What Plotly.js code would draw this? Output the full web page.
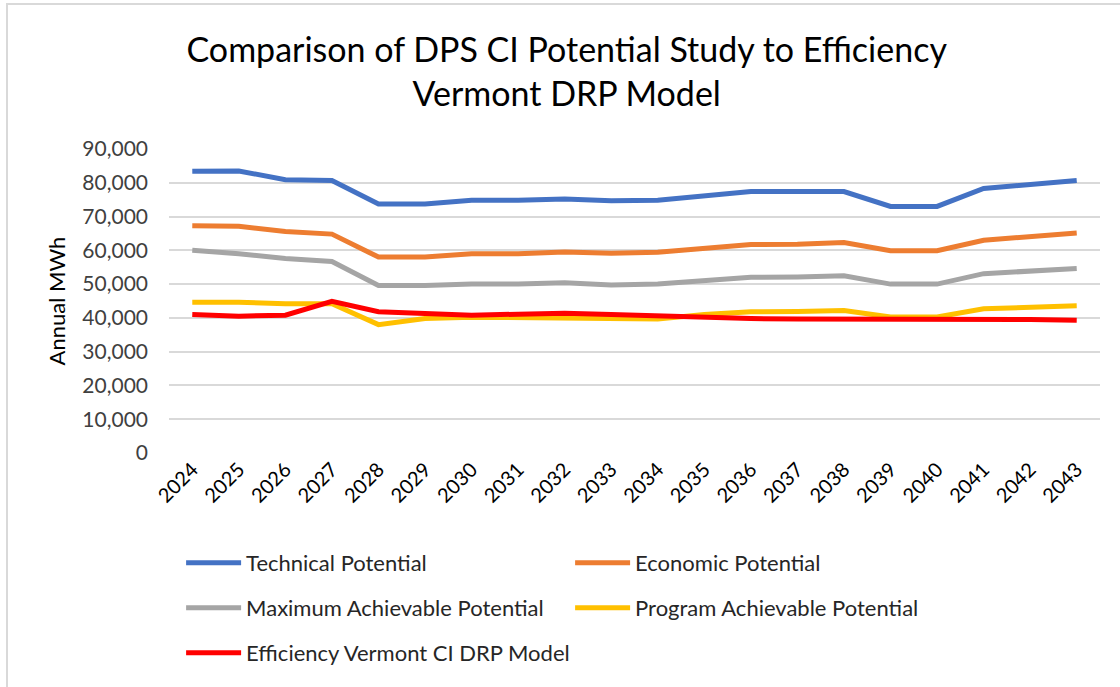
<!DOCTYPE html>
<html>
<head>
<meta charset="utf-8">
<script src="https://cdn.plot.ly/plotly-3.0.1.min.js"></script>
<style>
  html, body { margin: 0; padding: 0; background: #fff; }
  #frame { position: absolute; left: 6px; top: 3px; width: 1120px; height: 690px;
           border-top: 2px solid #d9d9d9; border-left: 2px solid #d9d9d9; box-sizing: border-box; }
  #chart { position: absolute; left: 0; top: 0; width: 1120px; height: 687px; }
</style>
</head>
<body>
<div id="frame"></div>
<div id="chart"></div>
<script>
const years = ["2024","2025","2026","2027","2028","2029","2030","2031","2032","2033",
               "2034","2035","2036","2037","2038","2039","2040","2041","2042","2043"];

const technical = [83400, 83500, 80900, 80700, 73700, 73700, 74800, 74800, 75200, 74700,
                   74800, 76000, 77400, 77400, 77400, 73000, 73000, 78300, 79600, 80700];
const economic  = [67300, 67100, 65600, 64800, 58000, 58000, 59000, 59000, 59500, 59100,
                   59400, 60700, 61700, 61800, 62300, 59900, 59900, 63000, 64000, 65100];
const maxAchievable = [60000, 59000, 57600, 56700, 49600, 49600, 50000, 50000, 50400, 49700,
                       50000, 51000, 52000, 52100, 52500, 50000, 50000, 53100, 53800, 54600];
const programAchievable = [44600, 44600, 44200, 44200, 38000, 39800, 40200, 40000, 40000, 39600,
                           39700, 41000, 41800, 41900, 42200, 40300, 40300, 42700, 43100, 43600];
const evtModel = [41000, 40500, 40800, 44900, 41800, 41300, 40800, 41100, 41400, 41000,
                  40500, 40000, 39800, 39700, 39700, 39700, 39700, 39700, 39500, 39300];

const names = ["Technical Potential", "Economic Potential", "Maximum Achievable Potential",
               "Program Achievable Potential", "Efficiency Vermont CI DRP Model"];
const series = [technical, economic, maxAchievable, programAchievable, evtModel];
const colors = ["#4472C4", "#ED7D31", "#A5A5A5", "#FFC000", "#FF0000"];
const legendIds = ["legend", "legend", "legend2", "legend2", "legend3"];
const yTicks = [0, 10000, 20000, 30000, 40000, 50000, 60000, 70000, 80000, 90000];

const FONT = "Lato, 'Open Sans', sans-serif";

const traces = series.map((vals, i) => ({
  type: "scatter",
  mode: "lines",
  x: years,
  y: vals,
  name: names[i],
  legend: legendIds[i],
  line: { color: colors[i], width: 5 },
  hoverinfo: "x+y+name"
}));

const legendBase = {
  orientation: "h",
  xref: "paper", yref: "paper",
  xanchor: "left", yanchor: "middle",
  x: 0.013,
  entrywidth: 319, entrywidthmode: "pixels",
  font: { family: FONT, size: 22, color: "#262626" },
  bgcolor: "rgba(0,0,0,0)",
  itemwidth: 55
};

const layout = {
  width: 1120, height: 687,
  paper_bgcolor: "rgba(0,0,0,0)",
  plot_bgcolor: "#ffffff",
  margin: { l: 169, r: 20, t: 149, b: 234 },
  font: { family: FONT, color: "#404040" },
  title: {
    text: "Comparison of DPS CI Potential Study to Efficiency<br>Vermont DRP Model",
    font: { family: FONT, size: 34, color: "#000000" },
    x: 0.506, xanchor: "center",
    y: 0.91, yanchor: "top"
  },
  xaxis: {
    type: "category",
    range: [-0.5, 19.5],
    tickangle: -45,
    tickfont: { family: FONT, size: 20, color: "#000000" },
    showgrid: false,
    showline: false,
    zeroline: false,
    ticks: "",
    fixedrange: true
  },
  yaxis: {
    range: [0, 90000],
    tickvals: yTicks,
    tickformat: ",d",
    tickfont: { family: FONT, size: 21, color: "#404040" },
    showgrid: true,
    gridcolor: "#d9d9d9",
    gridwidth: 1.5,
    zeroline: false,
    showline: false,
    ticks: "",
    ticklabelstandoff: 20,
    title: { text: "Annual MWh", font: { family: FONT, size: 22, color: "#000000" }, standoff: 10 },
    fixedrange: true
  },
  legend:  Object.assign({}, legendBase, { y: -(563 - 453) / 304 }),
  legend2: Object.assign({}, legendBase, { y: -(608 - 453) / 304 }),
  legend3: Object.assign({}, legendBase, { y: -(653 - 453) / 304 }),
  showlegend: true
};

Plotly.newPlot("chart", traces, layout, { displayModeBar: false });
</script>
</body>
</html>
